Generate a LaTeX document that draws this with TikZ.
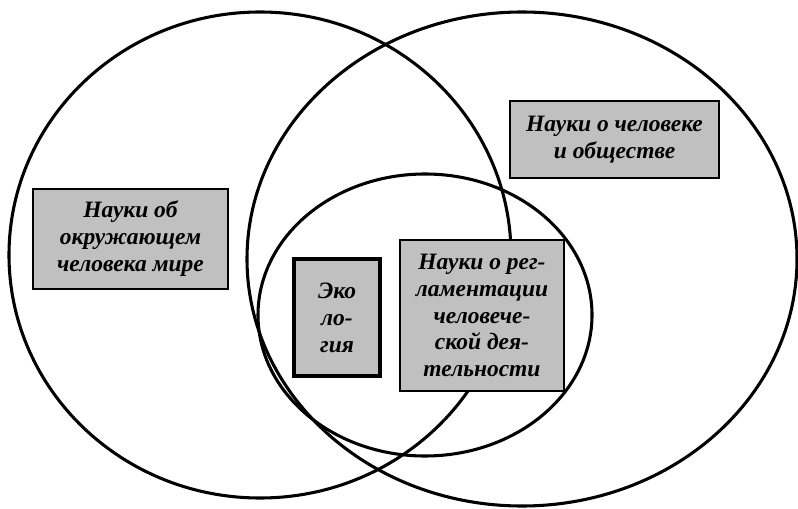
\documentclass[tikz,border=0pt]{standalone}
\usepackage{fontspec}
\setmainfont{Liberation Serif}
\usepackage{tikz}
\usetikzlibrary{positioning}
\definecolor{boxgray}{RGB}{192,192,192}

\begin{document}
\begin{tikzpicture}[
    x=0.75pt, y=-0.75pt,
    field/.style={line width=2.3pt},
    sci/.style={rectangle, draw=black, line width=1.6pt, fill=boxgray,
                inner sep=0pt, align=center,
                font=\bfseries\itshape\fontsize{17.6}{20.2}\selectfont},
]
    \useasboundingbox (0,0) rectangle (798,509);

    % Fields
    \draw[field] (260,255) ellipse [x radius=251, y radius=243];
    \draw[field] (522,259) ellipse [x radius=275, y radius=247];
    \draw[field] (425,315) ellipse [x radius=167, y radius=141];

    % Sciences
    \node[sci, minimum width=195*0.75pt, minimum height=100*0.75pt] (nature) at (130.5,239)
        {Науки об\\окружающем\\человека мире};
    \node[sci, minimum width=209*0.75pt, minimum height=77*0.75pt] (society) at (614.5,139.5)
        {Науки о человеке\\и обществе};
    \node[sci, line width=3.4pt, minimum width=86*0.75pt, minimum height=117*0.75pt] (ecology) at (337,317.5)
        {Эко\\ло-\\гия};
    \node[sci, minimum width=164*0.75pt, minimum height=151*0.75pt] (rules) at (482,315.5)
        {Науки о рег-\\ламентации\\человече-\\ской дея-\\тельности};
\end{tikzpicture}
\end{document}
